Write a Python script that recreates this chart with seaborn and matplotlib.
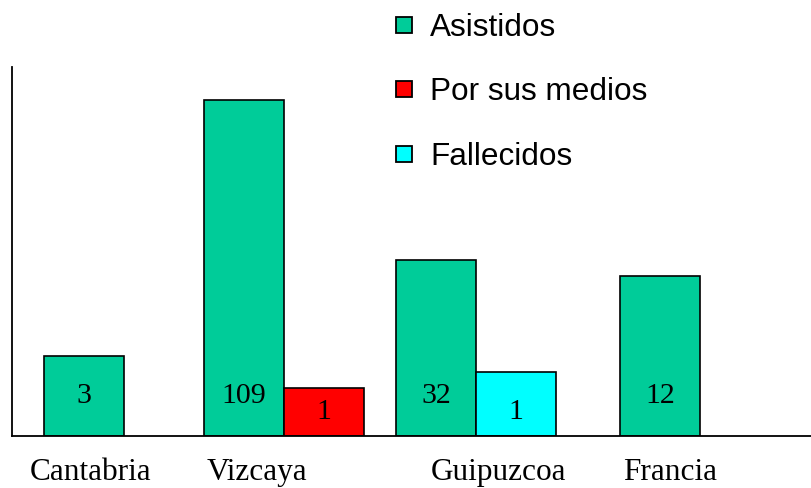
import pandas as pd
import matplotlib.pyplot as plt
from matplotlib.lines import Line2D
import seaborn as sns

# --- DATA ---
regions = ['Cantabria', 'Vizcaya', 'Guipuzcoa', 'Francia']
series = ['Asistidos', 'Por sus medios', 'Fallecidos']

# bar heights as drawn in the picture (grid units) and the numbers written on them
asistidos_height = [5, 21, 11, 10]
asistidos_label = ['3', '109', '32', '12']
medios_height = [None, 3, None, None]
medios_label = [None, '1', None, None]
fallecidos_height = [None, None, 4, None]
fallecidos_label = [None, None, '1', None]

colors = {'Asistidos': '#00CC99', 'Por sus medios': '#FF0000', 'Fallecidos': '#00FFFF'}

# --- LAYOUT (grid units of 16 px) ---
bar_width = 5
group_start = [2, 12, 24, 38]          # left edge of the first bar of each region
region_label_pos = [4.9, 15.3, 30.4, 41.1]
label_baseline = {'Asistidos': 2.06, 'Por sus medios': 1.06, 'Fallecidos': 1.06}

rows = []
for i, region in enumerate(regions):
    slot = 0
    for name, heights, labels in [('Asistidos', asistidos_height, asistidos_label),
                                  ('Por sus medios', medios_height, medios_label),
                                  ('Fallecidos', fallecidos_height, fallecidos_label)]:
        if heights[i] is None:
            continue
        center = group_start[i] + slot * bar_width + bar_width / 2
        rows.append({'Region': region, 'Serie': name, 'x': center,
                     'height': heights[i], 'label': labels[i]})
        slot += 1
df = pd.DataFrame(rows)

# --- PLOT ---
sns.set_theme(style="white")
plt.rcParams['font.family'] = ['Liberation Sans', 'DejaVu Sans']
plt.rcParams['text.color'] = 'black'
plt.rcParams['xtick.color'] = 'black'

fig = plt.figure(figsize=(8.12, 4.88), dpi=100)
ax = fig.add_axes([12 / 812, 52 / 488, 800 / 812, 369 / 488])

sns.barplot(data=df, x='x', y='height', hue='Serie', palette=colors,
            native_scale=True, dodge=False, width=1.0, saturation=1,
            edgecolor='black', linewidth=1.2, legend=False, ax=ax)

for _, r in df.iterrows():
    ax.text(r['x'], label_baseline[r['Serie']], r['label'], ha='center', va='baseline',
            fontsize=21.5, family='Liberation Serif', color='black')

ax.set_xlim(0, 50)
ax.set_ylim(0, 369 / 16)
ax.set_xlabel('')
ax.set_ylabel('')
ax.set_yticks([])
ax.set_xticks(region_label_pos)
ax.set_xticklabels(regions, fontsize=22.5, family='Liberation Serif', color='black')
ax.tick_params(axis='x', length=0, pad=15.5)

sns.despine(ax=ax, top=True, right=True)
for side in ['left', 'bottom']:
    ax.spines[side].set_color('black')
    ax.spines[side].set_linewidth(1.3)

handles = [Line2D([0], [0], marker='s', linestyle='none', markersize=11.5,
                  markerfacecolor=colors[s], markeredgecolor='black', markeredgewidth=1.3)
           for s in series]
leg = fig.legend(handles, series, loc='upper left', bbox_to_anchor=(388 / 812, 1 - 13 / 488),
                 frameon=False, fontsize=22.7, handlelength=1.0, handletextpad=0.34,
                 labelspacing=1.09, borderpad=0, borderaxespad=0)
for t in leg.get_texts():
    t.set_color('black')

plt.savefig('out.png', dpi=100)
plt.close()
